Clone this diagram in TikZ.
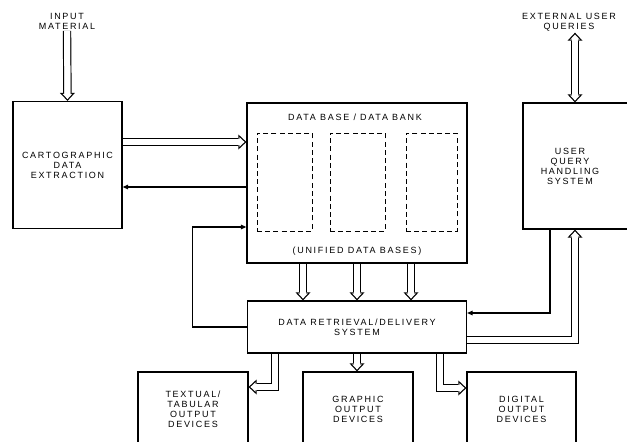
\documentclass[tikz,border=0pt]{standalone}
\usepackage{fontspec}
\setsansfont{Liberation Sans}[LetterSpace=19]
\usetikzlibrary{arrows.meta,positioning,calc,backgrounds}
\tikzset{
  block/.style={draw, line width=1.2pt, align=center, inner sep=0pt, font=\sffamily\fontsize{9}{10}\selectfont},
  dbox/.style={draw, line width=1pt, dash pattern=on 5pt off 3.2pt, inner sep=0pt},
  lbl/.style={align=center, inner sep=1pt, font=\sffamily\fontsize{9}{10}\selectfont},
  arrow/.style={line width=1.1pt, -{Triangle[length=5.5pt,width=4.5pt]}},
  fatarrow/.style={white, line width=6pt, shorten >=1.8pt,
    -{Triangle[length=5.2pt,width=9.6pt,line width=0pt]},
    preaction={draw=black, black, line width=8.4pt, shorten >=0pt,
      -{Triangle[length=8pt,width=15pt,line width=0pt]}},
    postaction={draw=white, white, line width=6pt, shorten >=6pt, -}},
  fatboth/.style={white, line width=6pt, shorten >=1.8pt, shorten <=1.8pt,
    {Triangle[length=5.2pt,width=9.6pt,line width=0pt]}-{Triangle[length=5.2pt,width=9.6pt,line width=0pt]},
    preaction={draw=black, black, line width=8.4pt, shorten >=0pt, shorten <=0pt,
      {Triangle[length=8pt,width=15pt,line width=0pt]}-{Triangle[length=8pt,width=15pt,line width=0pt]}},
    postaction={draw=white, white, line width=6pt, shorten >=6pt, shorten <=6pt, -}}
}
\begin{document}
\begin{tikzpicture}[x=1pt,y=-1pt]
  \useasboundingbox (0,0) rectangle (627,442);
  \clip (0,0) rectangle (627,442);
  \node[lbl] (inlbl) at (67,21.5) {INPUT\\MATERIAL};
  \node[lbl] (extlbl) at (569,22.5) {EXTERNAL USER\\QUERIES};
  \node[block, minimum width=109pt, minimum height=127pt] (cart) at (67.5,165) {CARTOGRAPHIC\\DATA\\EXTRACTION};
  \node[block, minimum width=220pt, minimum height=160pt] (db) at (357,183) {};
  \node[lbl] (dbtitle) at (355,117) {DATA BASE / DATA BANK};
  \node[dbox, minimum width=55pt, minimum height=98pt] (dba) at (284.5,182) {};
  \node[dbox, minimum width=55pt, minimum height=98pt] (dbb) at (357.5,182) {};
  \node[dbox, minimum width=51pt, minimum height=98pt] (dbc) at (431.5,182) {};
  \node[lbl] (dbfoot) at (357,251) {(UNIFIED DATA BASES)};
  \node[block, minimum width=117pt, minimum height=126pt] (qry) at (581.5,166) {};
  \node[lbl] (qrytext) at (570,166) {USER\\QUERY\\HANDLING\\SYSTEM};
  \node[block, minimum width=219pt, minimum height=52pt] (ret) at (357,327) {DATA RETRIEVAL/DELIVERY\\SYSTEM};
  \node[block, minimum width=110pt, minimum height=75pt] (tex) at (193,409.5) {TEXTUAL/\\TABULAR\\OUTPUT\\DEVICES};
  \node[block, minimum width=110pt, minimum height=75pt] (gra) at (358,409.5) {GRAPHIC\\OUTPUT\\DEVICES};
  \node[block, minimum width=109pt, minimum height=75pt] (dig) at (521.5,409.5) {DIGITAL\\OUTPUT\\DEVICES};
  \begin{scope}[on background layer]
    \draw[fatarrow] (inlbl.south) -- (cart.north);
    \draw[fatboth] ([xshift=-6.5pt]qry.north |- extlbl.south) -- ([xshift=-6.5pt]qry.north);
    \draw[fatarrow] ([yshift=23pt]cart.east) -- ([yshift=23pt]cart.east -| db.west);
    \draw[arrow] ([yshift=-22pt]cart.east -| db.west) -- ([yshift=-22pt]cart.east);
    \draw[arrow] (ret.west) -- ++(-54,0) |- ([yshift=-44pt]db.west);
    \foreach \dx in {-54,0,54}
      \draw[fatarrow] ([xshift=\dx pt]db.south) -- ([xshift=\dx pt]ret.north);
    \draw[fatarrow] (ret.south) -- (ret.south |- gra.north);
    \draw[fatarrow] ([xshift=-82pt]ret.south) |- ([yshift=22.5pt]tex.east);
    \draw[fatarrow] ([xshift=83pt]ret.south) |- ([yshift=21.5pt]dig.west);
    \draw[arrow] ([xshift=-31.5pt]qry.south) |- ([yshift=14pt]ret.east);
    \draw[fatarrow] ([yshift=-13pt]ret.east) -| ([xshift=-6.5pt]qry.south);
  \end{scope}
\end{tikzpicture}
\end{document}
